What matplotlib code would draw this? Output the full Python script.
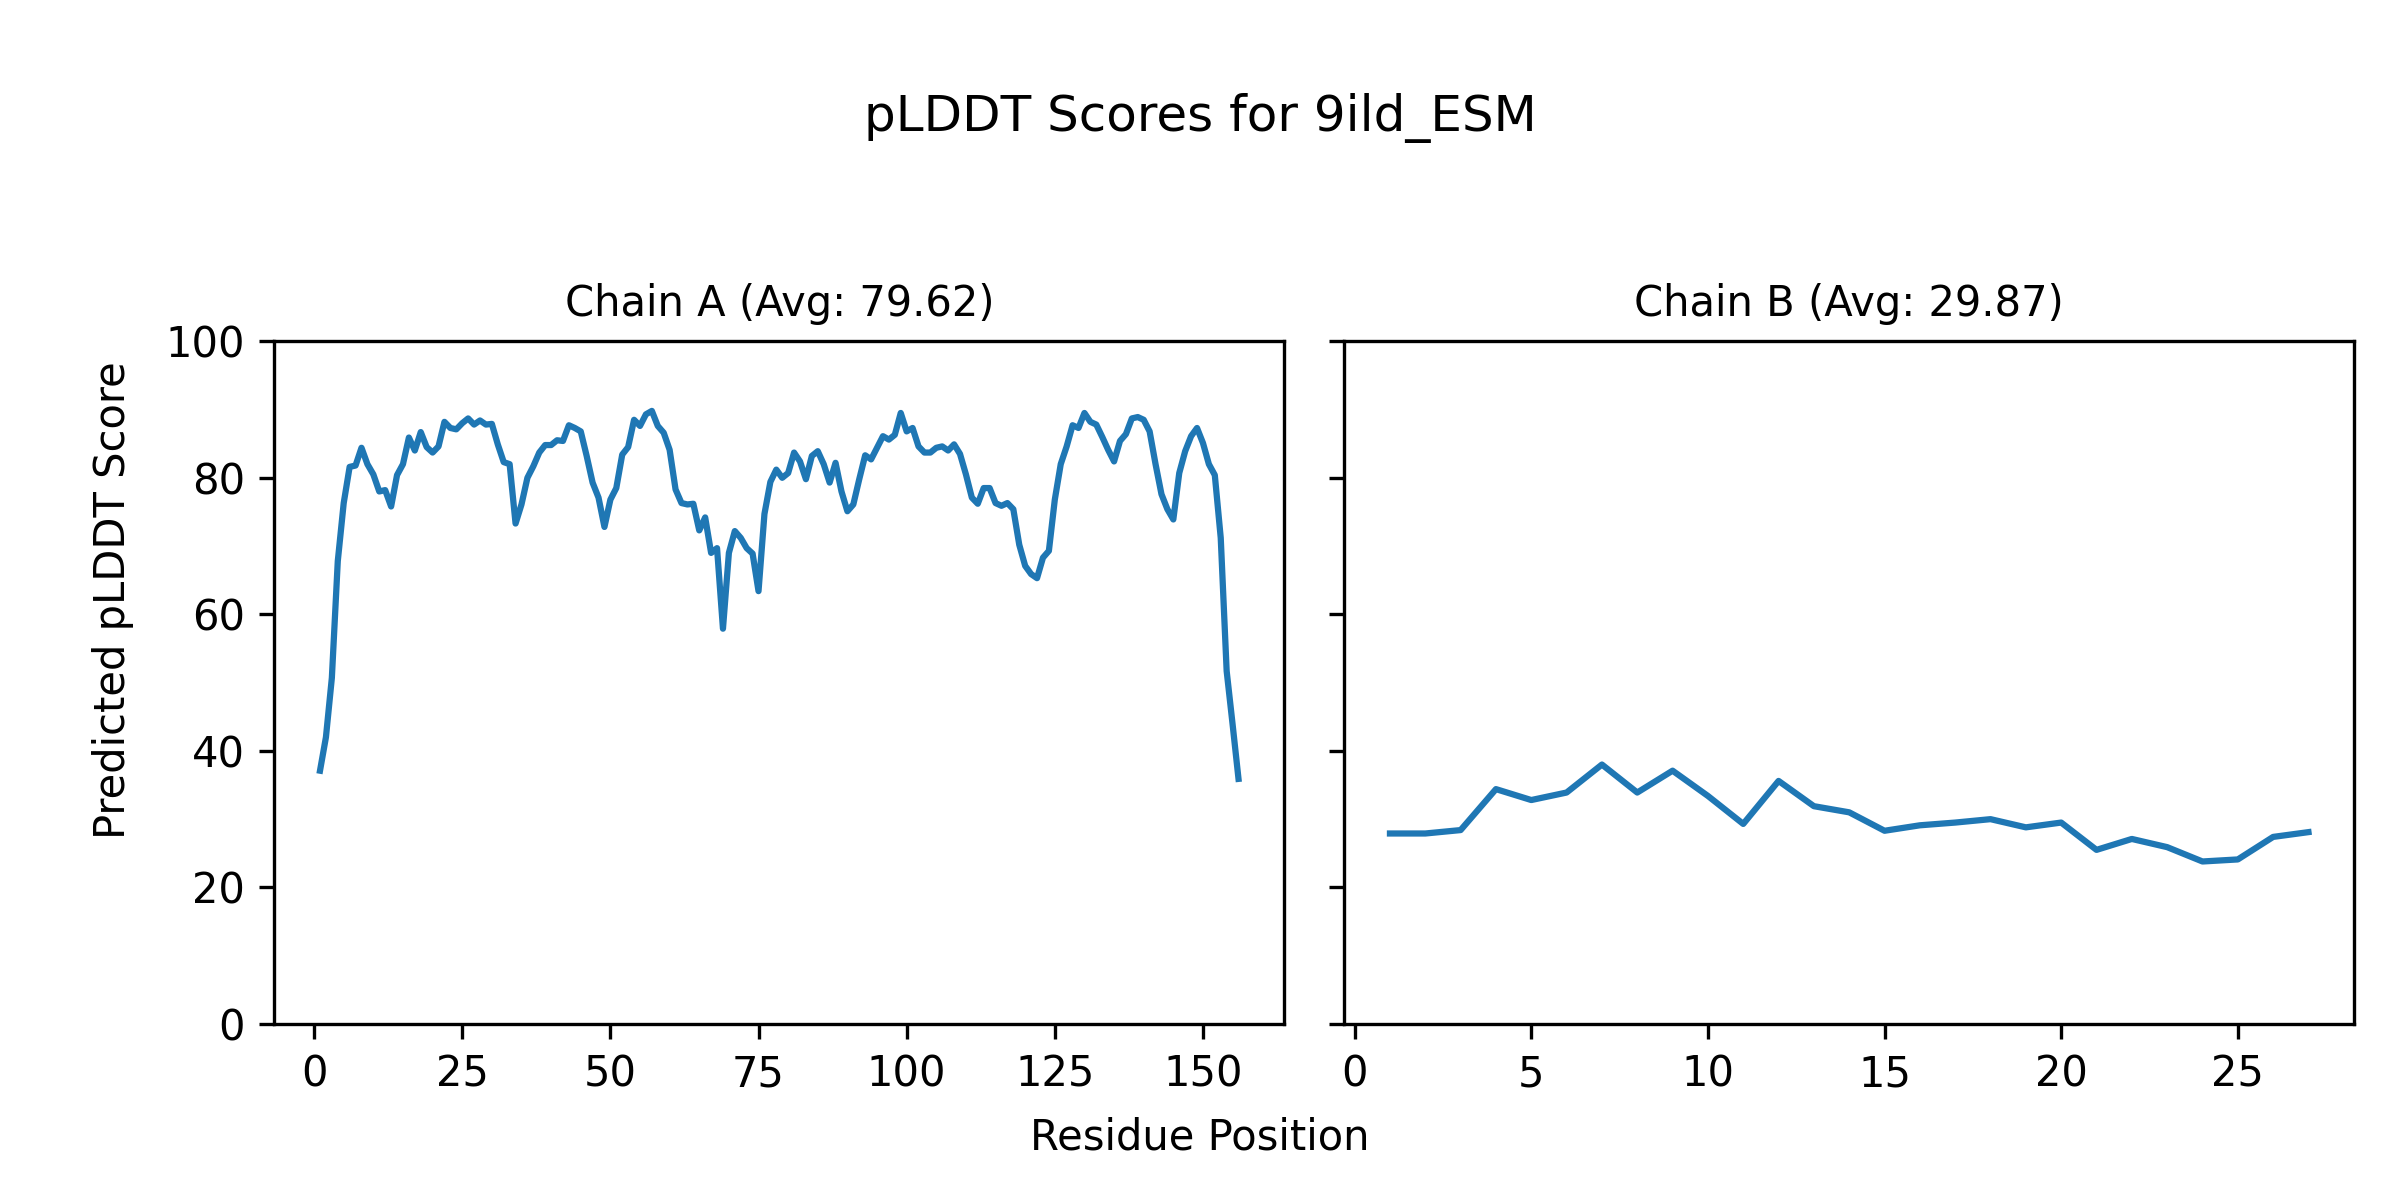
import matplotlib
matplotlib.use("Agg")
import matplotlib.pyplot as plt
import numpy as np

title = "pLDDT Scores for 9ild_ESM"
chain_names = ["A", "B"]
chain_avgs = ["79.62", "29.87"]

chain_a_scores = [
    37.1, 42.0, 50.7, 67.8, 76.3, 81.6, 81.8, 84.4, 82.0, 80.5,
    78.0, 78.2, 75.8, 80.4, 82.0, 85.9, 84.0, 86.7, 84.5, 83.7,
    84.6, 88.2, 87.3, 87.1, 88.0, 88.7, 87.8, 88.4, 87.8, 87.9,
    84.9, 82.3, 82.0, 73.3, 76.1, 80.0, 81.7, 83.7, 84.8, 84.8,
    85.5, 85.4, 87.7, 87.3, 86.8, 83.2, 79.3, 77.1, 72.8, 76.8,
    78.5, 83.4, 84.5, 88.5, 87.6, 89.3, 89.8, 87.6, 86.6, 84.1,
    78.3, 76.3, 76.1, 76.2, 72.3, 74.2, 69.0, 69.7, 57.9, 69.0,
    72.2, 71.2, 69.7, 68.9, 63.4, 74.7, 79.4, 81.2, 80.0, 80.7,
    83.7, 82.4, 79.8, 83.2, 83.9, 82.0, 79.3, 82.2, 78.0, 75.1,
    76.1, 79.8, 83.3, 82.7, 84.4, 86.1, 85.6, 86.3, 89.5, 86.8,
    87.3, 84.6, 83.7, 83.7, 84.4, 84.6, 84.0, 84.9, 83.5, 80.5,
    77.1, 76.2, 78.5, 78.5, 76.3, 75.9, 76.3, 75.4, 70.2, 67.1,
    65.9, 65.3, 68.3, 69.3, 76.8, 82.0, 84.6, 87.7, 87.3, 89.5,
    88.2, 87.8, 86.0, 84.1, 82.4, 85.4, 86.4, 88.7, 88.9, 88.5,
    86.8, 82.0, 77.6, 75.4, 73.9, 80.7, 83.9, 86.1, 87.3, 85.1,
    82.0, 80.4, 71.2, 51.7, 43.9, 35.9,
]

chain_b_scores = [
    27.9, 27.9, 28.4, 34.4, 32.8, 33.9, 38.0, 33.9, 37.1, 33.4,
    29.3, 35.6, 31.9, 31.0, 28.3, 29.1, 29.5, 30.0, 28.8, 29.5,
    25.5, 27.1, 25.9, 23.8, 24.1, 27.4, 28.1,
]

fig, axes = plt.subplots(1, 2, figsize=(8, 4), dpi=300, sharey=True)
fig.subplots_adjust(left=0.1142, right=0.981, bottom=0.1467, top=0.7156, wspace=0.059)

for ax, name, avg, scores in zip(axes, chain_names, chain_avgs,
                                 [chain_a_scores, chain_b_scores]):
    pos = np.arange(1, len(scores) + 1)
    ax.plot(pos, scores, color="#1f77b4", linewidth=1.5)
    ax.set_title(f"Chain {name} (Avg: {avg})", fontsize=10)
    ax.set_ylim(0, 100)

fig.suptitle(title, fontsize=12, y=0.902, va="center")
fig.supxlabel("Residue Position", fontsize=10, y=0.052, va="center")
fig.supylabel("Predicted pLDDT Score", fontsize=10, x=0.047, ha="center", va="center")

fig.savefig("out.png", dpi=300)
